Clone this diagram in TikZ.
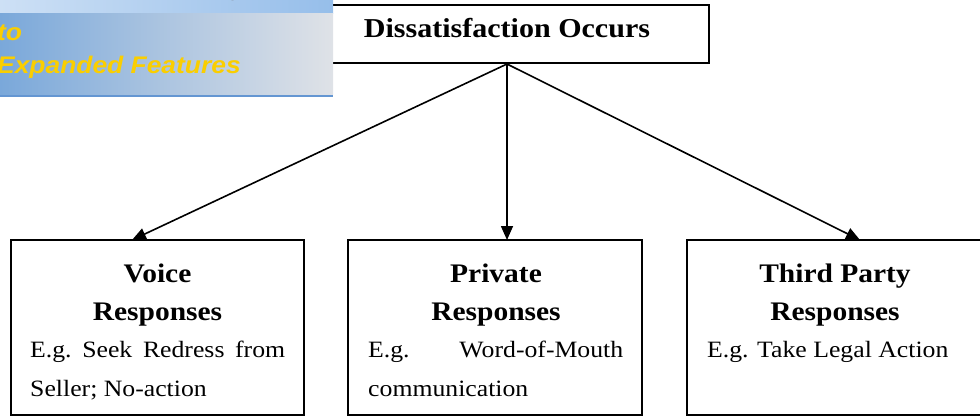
\documentclass[tikz,border=0pt]{standalone}
\usepackage{fontspec}
\setmainfont{Liberation Serif}[FakeStretch=1.1]
\newfontfamily\bannerfont{Liberation Sans}[FakeStretch=1.1]
\usetikzlibrary{arrows.meta}
\definecolor{bannerY}{RGB}{250,206,0}
\definecolor{stripL}{RGB}{205,224,245}
\definecolor{stripR}{RGB}{150,190,234}
\definecolor{panelL}{RGB}{122,168,218}
\definecolor{panelR}{RGB}{223,226,231}
\definecolor{panelEdge}{RGB}{100,150,210}
\definecolor{darkglyph}{RGB}{90,75,60}
\begin{document}
\begin{tikzpicture}[x=1pt,y=-1pt,
  box/.style={draw=black,line width=2pt,inner sep=0pt},
  arr/.style={line width=1.6pt,-{Triangle[length=14pt,width=12pt]}},
  title/.style={font=\fontsize{26.8}{30}\selectfont\bfseries,anchor=base,inner sep=0pt},
  body/.style={font=\fontsize{23.4}{27}\selectfont,anchor=base west,inner sep=0pt},
  banner/.style={font=\fontsize{24}{27}\selectfont\bannerfont\bfseries\itshape,text=bannerY,anchor=base west,inner sep=0pt}]
\useasboundingbox (0,0) rectangle (980,417);

% top box
\node[box,minimum width=404pt,minimum height=58pt] (cause) at (507,34) {};
\node[title,font=\fontsize{27.3}{30}\selectfont\bfseries] (causetxt) at (507,37.5) {Dissatisfaction Occurs};

% three response boxes
\node[box,minimum width=293pt,minimum height=175pt] (voice) at (157.5,327.5) {};
\node[box,minimum width=294pt,minimum height=175pt] (private) at (495,327.5) {};
\node[box,minimum width=296pt,minimum height=175pt] (third) at (835,327.5) {};

% box titles
\node[title] (voice-t1) at (157.5,282) {Voice};
\node[title] (voice-t2) at (157.5,320) {Responses};
\node[title] (private-t1) at (496,282) {Private};
\node[title] (private-t2) at (496,320) {Responses};
\node[title] (third-t1) at (835,282) {Third Party};
\node[title] (third-t2) at (835,320) {Responses};

% box bodies
\node[body] (voice-b1) at (30,357) {\hbox to 255pt{E.g.\hfill Seek\hfill Redress\hfill from}};
\node[body] (voice-b2) at (30,396) {Seller; No-action};
\node[body] (private-b1) at (368,357) {\hbox to 255pt{E.g.\hfill Word-of-Mouth}};
\node[body] (private-b2) at (368,396) {communication};
\node[body] (third-b1) at (707,357) {E.g. Take Legal Action};

% connectors
\coordinate (voice-in) at (132,240);
\coordinate (private-in) at (507,240);
\coordinate (third-in) at (860,240);
\draw[arr] (cause.south) -- (voice-in);
\draw[arr] (cause.south) -- (private-in);
\draw[arr] (cause.south) -- (third-in);

% banner in the corner
\shade[left color=stripL,right color=stripR] (0,0) rectangle (333,14);
\shade[left color=panelL,right color=panelR] (0,14) rectangle (333,95);
\fill[panelEdge] (0,95) rectangle (333,97.5);
\node[font=\fontsize{20}{24}\selectfont\bannerfont\bfseries\itshape,text=darkglyph,anchor=base,inner sep=0pt] (bannerhead) at (238,-3) {y};
\node[banner] (banner-l1) at (-3,41) {to};
\node[banner] (banner-l2) at (-3,74) {Expanded Features};
\end{tikzpicture}
\end{document}
